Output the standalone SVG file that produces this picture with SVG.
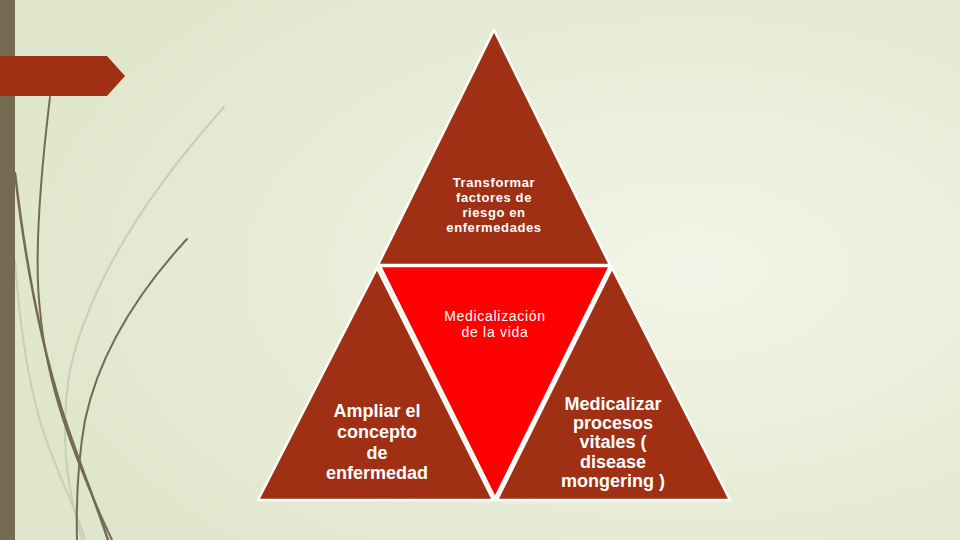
<svg xmlns="http://www.w3.org/2000/svg" width="960" height="540" viewBox="0 0 960 540">
<defs>
<radialGradient id="bg" cx="0.72" cy="0.5" r="0.75">
<stop offset="0" stop-color="#f1f5e7"/>
<stop offset="1" stop-color="#e0e6cb"/>
</radialGradient>
<style>
.tri{fill:#a03013;stroke:#ffffff;stroke-width:2.5;stroke-linejoin:miter}
.mid{fill:#ff0000;stroke:#ffffff;stroke-width:2.5}
.dk{fill:none;stroke:#756b53;stroke-linecap:round}
.lt{fill:none;stroke:#c9cfb5;stroke-linecap:round}
text{font-family:"Liberation Sans",Arial,sans-serif;fill:#ffffff;text-anchor:middle}
.b13{font-size:13px;font-weight:bold;letter-spacing:0.6px}
.r14{font-size:14px;letter-spacing:0.7px}
.b18{font-size:18px;font-weight:bold}
</style>
</defs>
<rect width="960" height="540" fill="url(#bg)"/>
<g id="decor">
<path class="lt" stroke-width="2" d="M224,107 C150,190 90,280 70,370 C60,430 65,480 82,540"/>
<path class="lt" stroke-width="2" d="M15,260 C20,330 30,400 50,450 C65,490 78,515 85,540"/>
<path class="dk" stroke-width="2" d="M50,97 C40,180 34,260 40,310 C46,380 70,450 112,540"/>
<path class="dk" stroke-width="2.5" d="M15,173 C25,260 40,340 62,410 C78,460 95,500 108,540"/>
<path class="dk" stroke-width="2" d="M187,239 C140,290 100,350 85,420 C78,460 76,500 77,540"/>
</g>
<rect x="0" y="0" width="15" height="540" fill="#756b53"/>
<polygon points="0,56 107,56 125,76 107,96 0,96" fill="#a03013"/>
<g id="node-top">
<polygon class="tri" points="494,30 378,265 610,265"/>
<text class="b13" x="494" y="187">Transformar</text>
<text class="b13" x="494" y="202">factores de</text>
<text class="b13" x="494" y="217">riesgo en</text>
<text class="b13" x="494" y="232">enfermedades</text>
</g>
<g id="node-center">
<polygon class="mid" points="380,266 610,266 495,498"/>
<text class="r14" x="495" y="321">Medicalización</text>
<text class="r14" x="495" y="337">de la vida</text>
</g>
<g id="node-left">
<polygon class="tri" points="377,268 258,500 493,500"/>
<text class="b18" x="377" y="417">Ampliar el</text>
<text class="b18" x="377" y="438">concepto</text>
<text class="b18" x="377" y="459">de</text>
<text class="b18" x="377" y="479">enfermedad</text>
</g>
<g id="node-right">
<polygon class="tri" points="612,268 497,500 730,500"/>
<text class="b18" x="613" y="410">Medicalizar</text>
<text class="b18" x="613" y="429">procesos</text>
<text class="b18" x="613" y="448">vitales (</text>
<text class="b18" x="613" y="468">disease</text>
<text class="b18" x="613" y="487">mongering )</text>
</g>
<g id="connectors"/>
</svg>
